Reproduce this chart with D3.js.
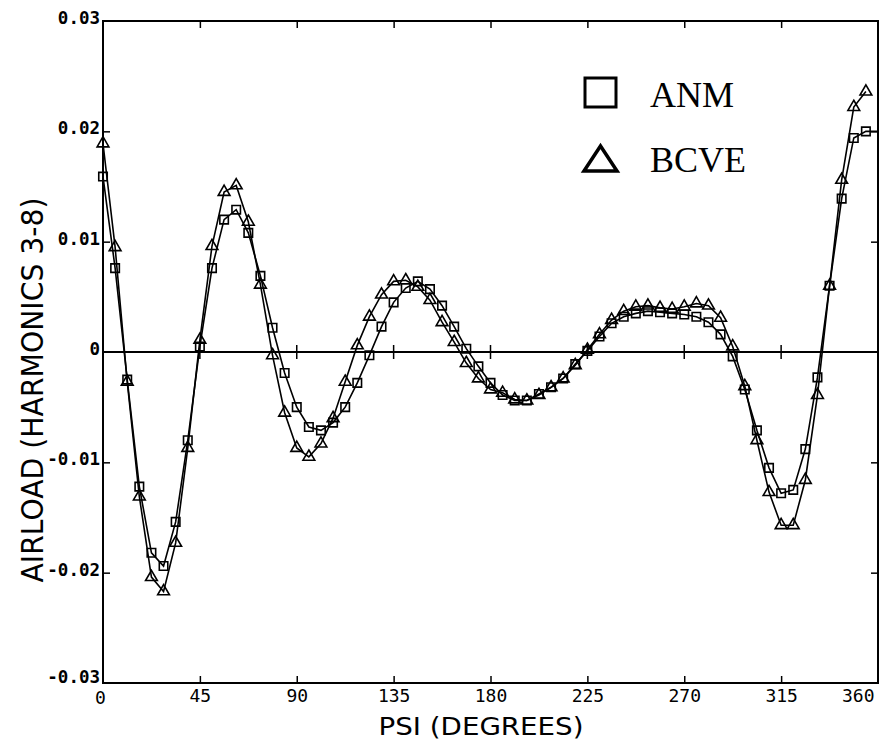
<!DOCTYPE html>
<html><head><meta charset="utf-8">
<script src="https://cdn.jsdelivr.net/npm/d3@7"></script>
<style>body{margin:0;background:#fff}</style>
</head><body>
<svg id="c" width="880" height="740"></svg>
<script>
// PSI step 360/64 degrees
const psiStep = 5.625;
const anm = [0.0159,0.0076,-0.0025,-0.0122,-0.0182,-0.0194,-0.0154,-0.0080,0.0005,0.0076,
 0.0120,0.0129,0.0108,0.0069,0.0022,-0.0019,-0.0050,-0.0068,-0.0071,-0.0064,
 -0.0050,-0.0028,-0.0003,0.0023,0.0045,0.0058,0.0064,0.0057,0.0042,0.0023,
 0.0003,-0.0013,-0.0028,-0.0039,-0.0044,-0.0044,-0.0038,-0.0032,-0.0024,-0.0011,
 0.0001,0.0014,0.0026,0.0032,0.0035,0.0037,0.0036,0.0035,0.0034,0.0032,
 0.0027,0.0016,-0.0004,-0.0034,-0.0071,-0.0105,-0.0128,-0.0125,-0.0088,-0.0023,
 0.0060,0.0139,0.0194,0.0200,0.0200];
const bcve = [0.0189,0.0095,-0.0027,-0.0131,-0.0204,-0.0217,-0.0173,-0.0087,0.0011,0.0096,
 0.0145,0.0151,0.0118,0.0061,-0.0003,-0.0055,-0.0087,-0.0095,-0.0083,-0.0060,
 -0.0027,0.0006,0.0032,0.0052,0.0064,0.0065,0.0059,0.0047,0.0027,0.0009,
 -0.0010,-0.0024,-0.0034,-0.0037,-0.0043,-0.0044,-0.0039,-0.0032,-0.0024,-0.0012,
 0.0002,0.0016,0.0029,0.0037,0.0041,0.0042,0.0040,0.0039,0.0041,0.0044,
 0.0042,0.0031,0.0005,-0.0031,-0.0080,-0.0127,-0.0157,-0.0157,-0.0116,-0.0039,
 0.0060,0.0156,0.0222,0.0236];
const xTicks = [0,45,90,135,180,225,270,315,360];
const yTicks = [-0.03,-0.02,-0.01,0,0.01,0.02,0.03];
const yTickLabels = ["-0.03","-0.02","-0.01","0","0.01","0.02","0.03"];
const legendNames = ["ANM","BCVE"];

const svg = d3.select("#c");
const x = d3.scaleLinear().domain([0,360]).range([103,878]);
const y = d3.scaleLinear().domain([-0.03,0.03]).range([683,21]);
const mono = "'DejaVu Sans Mono', monospace";

// frame
svg.append("rect").attr("x",x(0)).attr("y",y(0.03)).attr("width",x(360)-x(0)).attr("height",y(-0.03)-y(0.03))
  .attr("fill","none").attr("stroke","#000").attr("stroke-width",2);

// bottom axis
const gb = svg.append("g").attr("transform",`translate(0,${y(-0.03)})`)
  .call(d3.axisBottom(x).tickValues(xTicks).tickSizeInner(-7).tickSizeOuter(0).tickPadding(6).tickFormat(d3.format("d")));
gb.select(".domain").remove();
gb.selectAll("line").attr("stroke-width",1.5);
gb.selectAll("text").attr("font-family",mono).attr("font-size",18).attr("fill","#000");
gb.selectAll(".tick").filter(d=>d===360).select("text").attr("text-anchor","end").attr("dx",-4);
gb.selectAll(".tick").filter(d=>d===0).select("text").attr("dx",-3).attr("dy","0.85em");
gb.selectAll(".tick").filter(d=>d===0||d===360).select("line").remove();

// left axis
const gl = svg.append("g").attr("transform",`translate(${x(0)},0)`)
  .call(d3.axisLeft(y).tickValues(yTicks).tickSizeInner(-7).tickSizeOuter(0).tickPadding(3)
    .tickFormat((d,i)=>yTickLabels[i]));
gl.select(".domain").remove();
gl.selectAll("line").attr("stroke-width",1.5);
gl.selectAll("text").attr("font-family",mono).attr("font-weight","bold").attr("font-size",17.5).attr("fill","#000").attr("dy","0.15em");
gl.selectAll(".tick").filter(d=>d<-0.029).select("text").attr("dy","-0.05em");
gl.selectAll(".tick").filter(d=>Math.abs(d)>0.029||d===0).select("line").remove();

// top & right ticks
const gt = svg.append("g").attr("transform",`translate(0,${y(0.03)})`)
  .call(d3.axisTop(x).tickValues(xTicks.slice(1,-1)).tickSizeInner(-7).tickSizeOuter(0).tickFormat(""));
gt.select(".domain").remove(); gt.selectAll("line").attr("stroke-width",1.5);
const gr = svg.append("g").attr("transform",`translate(${x(360)},0)`)
  .call(d3.axisRight(y).tickValues(yTicks.filter(v=>Math.abs(v)<0.029 && v!==0)).tickSizeInner(-7).tickSizeOuter(0).tickFormat(""));
gr.select(".domain").remove(); gr.selectAll("line").attr("stroke-width",1.5);

// zero line with crossing ticks
svg.append("line").attr("x1",x(0)).attr("x2",x(360)).attr("y1",y(0)).attr("y2",y(0))
  .attr("stroke","#000").attr("stroke-width",2);
svg.append("g").selectAll("line").data(xTicks.slice(1,-1)).join("line")
  .attr("x1",d=>x(d)).attr("x2",d=>x(d)).attr("y1",y(0)-7).attr("y2",y(0)+7)
  .attr("stroke","#000").attr("stroke-width",1.5);

// series
const line = d3.line().x((d,i)=>x(i*psiStep)).y(d=>y(d));
[anm,bcve].forEach(s=>{
  svg.append("path").datum(s).attr("d",line).attr("fill","none").attr("stroke","#000").attr("stroke-width",1.6);
});
const sq = d3.symbol().type(d3.symbolSquare).size(72);
const tri = d3.symbol().type(d3.symbolTriangle).size(60);
const pts = s => s.map((v,i)=>({psi:i*psiStep,v})).filter(d=>d.psi<360);
svg.append("g").selectAll("path").data(pts(anm)).join("path")
  .attr("transform",d=>`translate(${x(d.psi)},${y(d.v)})`).attr("d",sq)
  .attr("fill","none").attr("stroke","#000").attr("stroke-width",1.6);
svg.append("g").selectAll("path").data(pts(bcve)).join("path")
  .attr("transform",d=>`translate(${x(d.psi)},${y(d.v)})`).attr("d",tri)
  .attr("fill","none").attr("stroke","#000").attr("stroke-width",1.6);

// legend
svg.append("rect").attr("x",585).attr("y",78).attr("width",31).attr("height",29)
  .attr("fill","none").attr("stroke","#000").attr("stroke-width",3);
svg.append("path").attr("d","M584,171 L617,171 L600.5,146 Z")
  .attr("fill","none").attr("stroke","#000").attr("stroke-width",3.5).attr("stroke-linejoin","miter");
svg.selectAll(".leg").data(legendNames).join("text").attr("class","leg")
  .attr("x",650).attr("y",(d,i)=>107+i*65).text(d=>d)
  .attr("font-family","'Liberation Serif', serif").attr("font-size",36).attr("fill","#000");

// axis titles
svg.append("text").attr("x",481).attr("y",735).attr("text-anchor","middle")
  .attr("font-family","'DejaVu Sans', sans-serif").attr("font-size",25)
  .attr("textLength",205).attr("lengthAdjust","spacingAndGlyphs").text("PSI (DEGREES)");
svg.append("text").attr("transform","translate(43,390) rotate(-90)").attr("text-anchor","middle")
  .attr("font-family","'DejaVu Sans', sans-serif").attr("font-size",31)
  .attr("textLength",385).attr("lengthAdjust","spacingAndGlyphs").text("AIRLOAD (HARMONICS 3-8)");
</script>
</body></html>
